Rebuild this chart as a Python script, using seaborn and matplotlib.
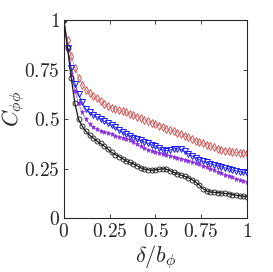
import numpy as np
import pandas as pd
import matplotlib
matplotlib.use("Agg")
import matplotlib.pyplot as plt
import seaborn as sns

delta = [round(0.02 * i, 2) for i in range(51)]

red_vals = [1.0, 0.90, 0.82, 0.76, 0.71, 0.675, 0.65, 0.63, 0.615, 0.605,
            0.59, 0.575, 0.565, 0.558, 0.55, 0.545, 0.54, 0.535, 0.527, 0.52,
            0.513, 0.505, 0.497, 0.49, 0.483, 0.475, 0.468, 0.46, 0.452, 0.445,
            0.44, 0.432, 0.425, 0.415, 0.41, 0.40, 0.39, 0.385, 0.38, 0.372,
            0.365, 0.36, 0.352, 0.345, 0.34, 0.338, 0.335, 0.333, 0.332, 0.33, 0.33]

blue_vals = [1.0, 0.86, 0.76, 0.68, 0.625, 0.585, 0.55, 0.535, 0.522, 0.512,
             0.502, 0.49, 0.48, 0.47, 0.46, 0.445, 0.435, 0.425, 0.415, 0.408,
             0.40, 0.393, 0.385, 0.378, 0.37, 0.365, 0.355, 0.345, 0.342, 0.345,
             0.35, 0.352, 0.348, 0.338, 0.325, 0.315, 0.305, 0.296, 0.288, 0.282,
             0.276, 0.27, 0.265, 0.26, 0.255, 0.25, 0.245, 0.24, 0.236, 0.232, 0.228]

purple_vals = [1.0, 0.85, 0.73, 0.645, 0.58, 0.535, 0.50, 0.475, 0.46, 0.45,
               0.44, 0.435, 0.43, 0.425, 0.418, 0.412, 0.408, 0.403, 0.395, 0.385,
               0.375, 0.365, 0.355, 0.347, 0.34, 0.335, 0.33, 0.325, 0.32, 0.315,
               0.31, 0.305, 0.30, 0.295, 0.29, 0.285, 0.28, 0.273, 0.265, 0.258,
               0.25, 0.243, 0.235, 0.228, 0.22, 0.213, 0.207, 0.20, 0.195, 0.19, 0.185]

black_vals = [1.0, 0.86, 0.71, 0.58, 0.50, 0.465, 0.44, 0.42, 0.405, 0.39,
              0.378, 0.365, 0.35, 0.333, 0.322, 0.312, 0.302, 0.29, 0.282, 0.275,
              0.265, 0.255, 0.248, 0.245, 0.243, 0.245, 0.248, 0.25, 0.248, 0.24,
              0.232, 0.225, 0.218, 0.212, 0.205, 0.195, 0.183, 0.168, 0.15, 0.138,
              0.133, 0.132, 0.13, 0.128, 0.126, 0.124, 0.12, 0.117, 0.114, 0.112, 0.11]

tick_vals = [0, 0.25, 0.5, 0.75, 1]
tick_labels = ["0", "0.25", "0.5", "0.75", "1"]

sns.set_style("ticks")
plt.rcParams["mathtext.fontset"] = "cm"
plt.rcParams["font.family"] = ["DejaVu Serif"]

fig = plt.figure(figsize=(2.73, 2.72), dpi=100)
ax = fig.add_axes([0.234, 0.197, 0.671, 0.729])

series = [
    (red_vals, "#d05a5a", "d", "-", 3.6, "none", 0.7, 0.4),
    (blue_vals, "#1a1aff", "v", "-", 3.8, "none", 0.7, 0.6),
    (purple_vals, "#8a2be2", "*", "-", 3.6, "#8a2be2", 0.4, 0.4),
    (black_vals, "#1a1a1a", "o", "-", 3.6, "none", 0.6, 0.9),
]
for vals, col, mk, ls, ms, mfc, mew, lw in series:
    df = pd.DataFrame({"delta": delta, "C": vals})
    sns.lineplot(data=df, x="delta", y="C", ax=ax, color=col, linestyle=ls,
                 linewidth=lw, marker=mk, markersize=ms, markerfacecolor=mfc,
                 markeredgecolor=col, markeredgewidth=mew)

ax.set_xlim(0, 1)
ax.set_ylim(0, 1)
ax.set_xticks(tick_vals)
ax.set_yticks(tick_vals)
ax.set_xticklabels(["$" + t + "$" for t in tick_labels], fontsize=14)
ax.set_yticklabels(["$" + t + "$" for t in tick_labels], fontsize=14)
ax.tick_params(direction="in", top=True, right=True, length=3, width=0.6,
               colors="#262626", pad=3)
for s in ax.spines.values():
    s.set_visible(True)
    s.set_linewidth(0.8)
    s.set_color("#262626")
ax.set_xlabel(r"$\delta/b_\phi$", fontsize=16, labelpad=2)
ax.set_ylabel(r"$C_{\phi\phi}$", fontsize=16)
ax.yaxis.set_label_coords(-0.2, 0.55)

fig.savefig("out.png", dpi=100)
